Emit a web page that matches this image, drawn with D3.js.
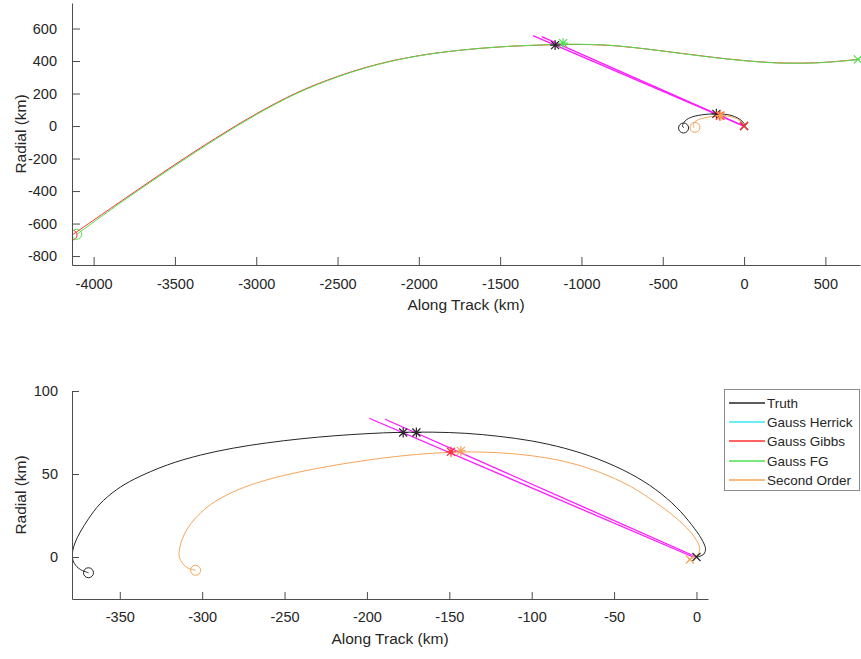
<!DOCTYPE html>
<html>
<head>
<meta charset="utf-8">
<script src="https://cdn.jsdelivr.net/npm/d3@7"></script>
<style>
  body { margin: 0; background: #fff; }
  text { font-family: "Liberation Sans", Arial, sans-serif; fill: #262626; }
  .axis path, .axis line { stroke: #4d4d4d; }
</style>
</head>
<body>
<script>
// ---- data (km) ----
var truthPath = [[-369,-9.5],[-374,-7.5],[-377.5,-4],[-378.8,0],[-378.5,4],[-377,9],[-374,15],[-369,23],[-362,32],
  [-352,40.5],[-341,47],[-321,55.5],[-301,61.4],[-281,65.6],[-261,68.7],[-240,71.2],[-220,73],[-200,74.3],[-180,75.1],
  [-160,75.2],[-140,74.5],[-120,72.7],[-100,69.9],[-80,65.5],[-60,59.1],[-40,50.1],[-25,40.8],[-12,29.8],[-3,19.5],
  [3,11],[5.5,5],[4.5,1.8],[2,0.4],[0,0]];
var secondOrderPath = [[-304,-8],[-309,-6.5],[-312.5,-3],[-314,1],[-313.5,6],[-312,11],[-309,17],[-304,23.5],
  [-297,30],[-288,35.8],[-275,41.8],[-261,46.4],[-241,51.2],[-220,55.2],[-200,58.3],[-180,60.8],[-160,62.5],
  [-140,63.3],[-120,62.8],[-100,61],[-80,57.5],[-60,51.5],[-40,42.5],[-25,33],[-13,24],[-4,15.5],[0,10],[2,5.5],
  [1,2],[-2,-0.5],[-5,-1.8]];
var gibbsPath = [[-4133,-671],[-3800,-441],[-3500,-237],[-3250,-75],[-3000,75],[-2750,205],[-2500,305],[-2250,381],
  [-2000,433],[-1750,466],[-1500,487],[-1250,498],[-1100,502],[-950,501],[-800,494],[-600,474],[-400,449],
  [-200,424],[0,403],[200,389],[400,388],[550,396],[713,411]];
var fgPath = [[-4104,-666],[-3800,-448],[-3500,-244],[-3250,-81],[-3000,70],[-2750,201],[-2500,302],[-2250,379],
  [-2000,432],[-1750,466],[-1500,487],[-1250,499],[-1100,503],[-950,502],[-800,495],[-600,474],[-400,448],
  [-200,423],[0,402],[200,388],[400,387],[550,395],[713,410]];
var losTop = [[[-1298,556],[0,0]], [[-1244,550],[3,-2]]];
var losBottom = [[[-198.6,83.6],[-2,0]], [[-189,83],[0,0]]];

// markers: [x, y, shape, colour]
var markersTop = [[-4133,-671,"o","red"],[-4104,-666,"o","green"],[-372,-12,"o","truth"],[-302,-8,"o","orange"],
  [-1162,498,"*","truth"],[-1113,510,"*","green"],[-170,75,"*","truth"],[-149,63,"*","red"],[-143,64,"*","orange"],
  [0,0,"x","truth"],[0,0,"x","red"],[700,410,"x","green"]];
var markersBottom = [[-369,-9.5,"o","truth"],[-304,-8,"o","orange"],[-178,75,"*","truth"],[-170,75,"*","truth"],
  [-149,63.4,"*","red"],[-143,63.9,"*","orange"],[0,0,"x","truth"],[-4,-1.5,"x","orange"]];

var legendNames = ["Truth", "Gauss Herrick", "Gauss Gibbs", "Gauss FG", "Second Order"];
var colors = { truth: "#262626", herrick: "#3fe6f0", red: "#ff3030", green: "#4fe04f", orange: "#f5a55a", los: "#ff19ff" };
var legendColors = [colors.truth, colors.herrick, colors.red, colors.green, colors.orange];

var topXTicks = d3.range(-4000, 501, 500);
var topYTicks = d3.range(-800, 601, 200);
var botXTicks = d3.range(-350, 1, 50);
var botYTicks = [0, 50, 100];

var svg = d3.select("body").append("svg").attr("width", 861).attr("height", 659);

function drawMarker(g, x, y, shape, col) {
  if (shape === "o") {
    g.append("circle").attr("cx", x).attr("cy", y).attr("r", 5)
      .attr("fill", "none").attr("stroke", col).attr("stroke-width", 1);
  } else {
    var s = 4, d = shape === "x" ? 0 : 1;
    var p = "M" + (x - s) + "," + (y - s) + "L" + (x + s) + "," + (y + s) +
            "M" + (x - s) + "," + (y + s) + "L" + (x + s) + "," + (y - s);
    if (d) p += "M" + (x - s - 1) + "," + y + "L" + (x + s + 1) + "," + y + "M" + x + "," + (y - s - 1) + "L" + x + "," + (y + s + 1);
    g.append("path").attr("d", p).attr("stroke", col).attr("stroke-width", 1.2).attr("fill", "none");
  }
}

var fmt = d => String(d);

function panel(cfg) {
  var x = d3.scaleLinear().domain(cfg.xDomain).range([cfg.left, cfg.right]);
  var y = d3.scaleLinear().domain(cfg.yDomain).range([cfg.bottom, cfg.top]);
  var smooth = d3.line().x(d => x(d[0])).y(d => y(d[1])).curve(d3.curveCatmullRom.alpha(0.5));
  var straight = d3.line().x(d => x(d[0])).y(d => y(d[1]));

  svg.append("clipPath").attr("id", cfg.id)
    .append("rect").attr("x", cfg.left).attr("y", cfg.top - 6)
    .attr("width", cfg.right - cfg.left + 2).attr("height", cfg.bottom - cfg.top + 6);

  var g = svg.append("g").attr("clip-path", "url(#" + cfg.id + ")");

  cfg.lines.forEach(function (l) {
    g.append("path").datum(l.data).attr("d", l.straight ? straight : smooth)
      .attr("fill", "none").attr("stroke", l.color).attr("stroke-width", l.w || 1);
  });

  cfg.markers.forEach(function (m) {
    drawMarker(g, x(m[0]), y(m[1]), m[2], colors[m[3]]);
  });

  svg.append("g").attr("class", "axis")
    .attr("transform", "translate(0," + cfg.bottom + ")")
    .call(d3.axisBottom(x).tickValues(cfg.xTicks).tickFormat(fmt).tickSizeInner(-cfg.tick).tickSizeOuter(0).tickPadding(cfg.tick + 6))
    .call(g => g.selectAll("text").style("font-size", "14.5px").attr("fill", "#262626"));

  svg.append("g").attr("class", "axis")
    .attr("transform", "translate(" + cfg.left + ",0)")
    .call(d3.axisLeft(y).tickValues(cfg.yTicks).tickFormat(fmt).tickSizeInner(-cfg.tick).tickSizeOuter(0).tickPadding(cfg.tick + 7))
    .call(g => g.selectAll("text").style("font-size", "14.5px").attr("fill", "#262626"));

  svg.append("text").attr("x", (cfg.left + cfg.right) / 2).attr("y", cfg.bottom + 45)
    .attr("text-anchor", "middle").style("font-size", "15.5px").text("Along Track (km)");
  svg.append("text").attr("transform", "translate(" + cfg.yLabelX + "," + (cfg.top + cfg.bottom) / 2 + ") rotate(-90)")
    .attr("text-anchor", "middle").style("font-size", "15.5px").text("Radial (km)");
}

// top: whole arc
panel({
  id: "clipTop", left: 72, right: 860, top: 3, bottom: 265, tick: 8, yLabelX: 26,
  xDomain: [-4133, 713], yDomain: [-855, 757], xTicks: topXTicks, yTicks: topYTicks,
  lines: [
    { data: gibbsPath, color: colors.red },
    { data: fgPath, color: colors.green },
    { data: truthPath, color: colors.truth },
    { data: secondOrderPath, color: colors.orange },
    { data: losTop[0], color: colors.los, straight: true, w: 1.3 },
    { data: losTop[1], color: colors.los, straight: true, w: 1.3 }
  ],
  markers: markersTop
});

// bottom: zoom near the origin
panel({
  id: "clipBot", left: 72, right: 708, top: 391, bottom: 599, tick: 7, yLabelX: 26,
  xDomain: [-379, 7], yDomain: [-25.3, 100], xTicks: botXTicks, yTicks: botYTicks,
  lines: [
    { data: truthPath, color: colors.truth },
    { data: secondOrderPath, color: colors.orange },
    { data: losBottom[0], color: colors.los, straight: true, w: 1.3 },
    { data: losBottom[1], color: colors.los, straight: true, w: 1.3 }
  ],
  markers: markersBottom
});

// legend
var leg = svg.append("g");
leg.append("rect").attr("x", 724.5).attr("y", 389.5).attr("width", 135).attr("height", 101)
  .attr("fill", "#fff").attr("stroke", "#8c8c8c");
legendNames.forEach(function (name, i) {
  var yy = 403 + Math.round(i * 19.2);
  leg.append("line").attr("x1", 729).attr("x2", 765).attr("y1", yy).attr("y2", yy)
    .attr("stroke", legendColors[i]).attr("stroke-width", 1.5);
  leg.append("text").attr("x", 767).attr("y", yy + 5).style("font-size", "13.5px").text(name);
});
</script>
</body>
</html>
